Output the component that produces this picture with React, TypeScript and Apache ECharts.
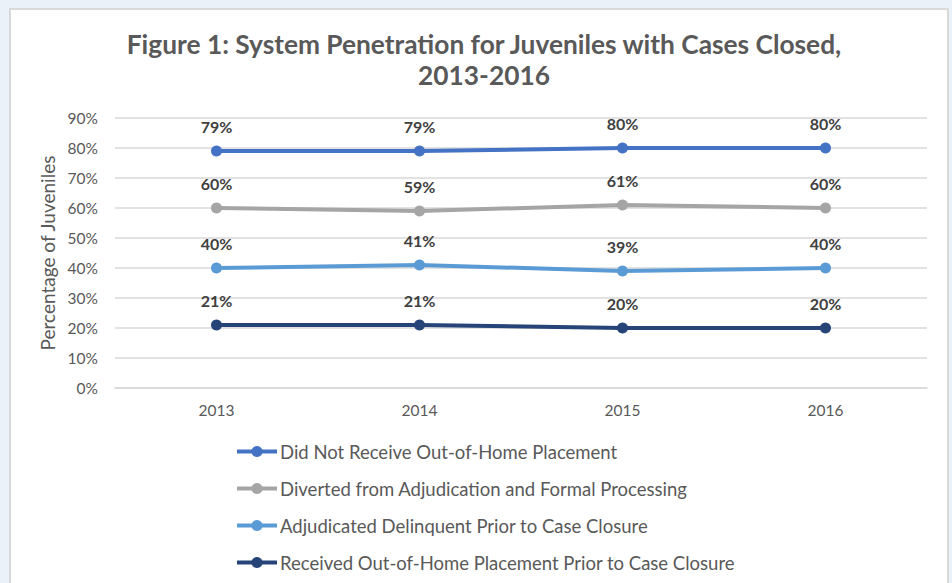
import React, { useEffect, useRef } from "react";
import * as echarts from "echarts";

const years = ["2013", "2014", "2015", "2016"];
const seriesNames = [
  "Did Not Receive Out-of-Home Placement",
  "Diverted from Adjudication and Formal Processing",
  "Adjudicated Delinquent Prior to Case Closure",
  "Received Out-of-Home Placement Prior to Case Closure",
];
const didNotReceive = [79, 79, 80, 80];
const diverted = [60, 59, 61, 60];
const adjudicated = [40, 41, 39, 40];
const received = [21, 21, 20, 20];
const colors = ["#4472C4", "#A5A5A5", "#5B9BD5", "#264478"];

const FONT = "Lato, 'Open Sans', sans-serif";

export default function App() {
  const ref = useRef<HTMLDivElement>(null);
  useEffect(() => {
    document.body.style.margin = "0";
    const chart = echarts.init(ref.current!, null, { renderer: "svg" });
    const data = [didNotReceive, diverted, adjudicated, received];
    chart.setOption({
      animation: false,
      backgroundColor: "#eaf1f9",
      textStyle: { fontFamily: FONT },
      graphic: [
        {
          type: "rect",
          z: -10,
          silent: true,
          shape: { x: 10, y: 9, width: 938, height: 620 },
          style: { fill: "#ffffff", stroke: "#d9d9d9", lineWidth: 2 },
        },
      ],
      title: {
        text: "Figure 1: System Penetration for Juveniles with Cases Closed,\n2013-2016",
        left: 479,
        textAlign: "center",
        top: 23,
        textStyle: {
          fontFamily: FONT,
          fontSize: 26.3,
          fontWeight: "bold",
          color: "#595959",
          lineHeight: 31,
        },
      },
      grid: { left: 115, right: 25, top: 118, bottom: 195, containLabel: false },
      legend: {
        orient: "vertical",
        left: 230,
        top: 437,
        height: 160,
        itemWidth: 40,
        itemHeight: 14,
        itemGap: 18,
        lineStyle: { width: 4 },
        textStyle: { fontFamily: FONT, fontSize: 18.5, color: "#595959", padding: [0, 0, 0, -2] },
        data: seriesNames,
      },
      xAxis: {
        type: "category",
        data: years,
        boundaryGap: true,
        axisLine: { show: true, lineStyle: { color: "#d9d9d9", width: 1.5 } },
        axisTick: { show: false },
        axisLabel: { color: "#595959", fontSize: 15.5, margin: 14, fontFamily: FONT },
      },
      yAxis: {
        type: "value",
        min: 0,
        max: 90,
        interval: 10,
        name: "Percentage of Juveniles",
        nameLocation: "middle",
        nameGap: 58,
        nameTextStyle: { color: "#595959", fontSize: 19, fontFamily: FONT },
        axisLine: { show: false },
        axisTick: { show: false },
        axisLabel: { color: "#595959", fontSize: 15.5, margin: 17, formatter: "{value}%", fontFamily: FONT },
        splitLine: { lineStyle: { color: "#d9d9d9", width: 1.5 } },
      },
      series: seriesNames.map((name, i) => ({
        name,
        type: "line",
        data: data[i],
        color: colors[i],
        symbol: "circle",
        symbolSize: 11,
        lineStyle: { width: 4, color: colors[i] },
        itemStyle: { color: colors[i] },
        label: {
          show: true,
          position: "top",
          distance: 11,
          formatter: "{c}%",
          color: "#404040",
          fontWeight: "bold",
          fontSize: 16,
          fontFamily: FONT,
        },
      })),
    });
    return () => chart.dispose();
  }, []);
  return <div ref={ref} style={{ width: 952, height: 583 }} />;
}
